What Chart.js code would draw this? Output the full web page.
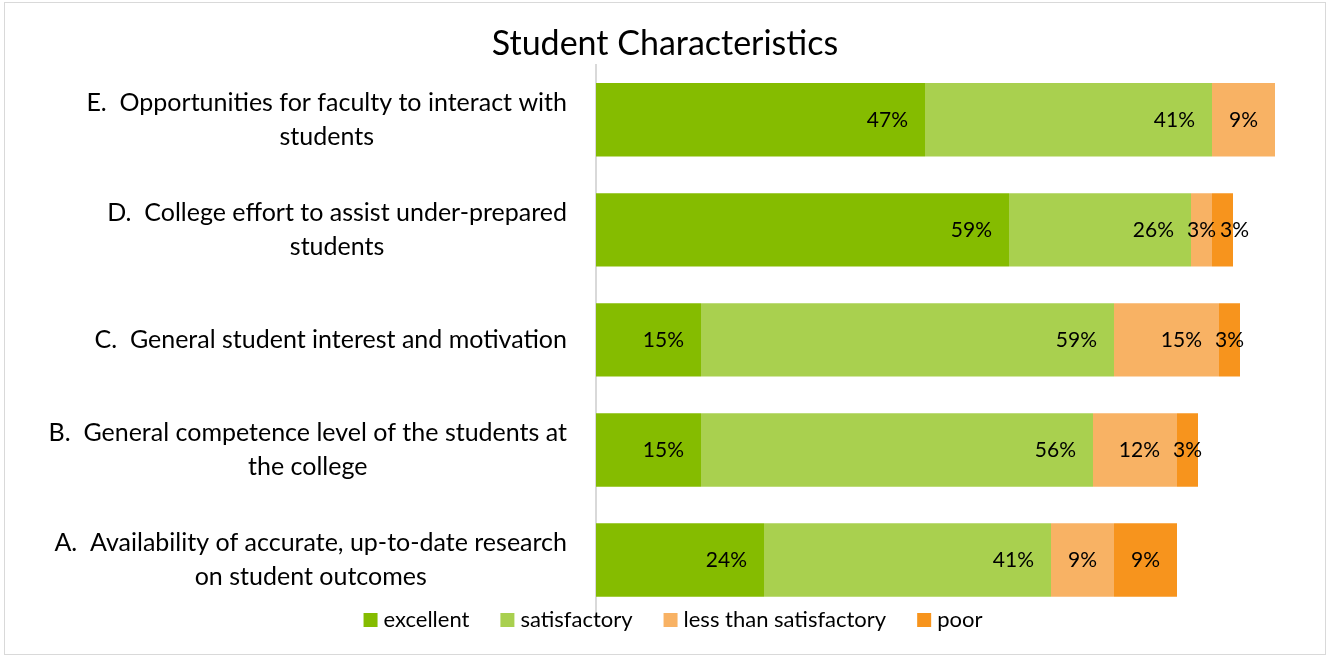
<!DOCTYPE html>
<html>
<head>
<meta charset="utf-8">
<title>Student Characteristics</title>
<script src="https://cdn.jsdelivr.net/npm/chart.js@4.4.1/dist/chart.umd.min.js"></script>
<style>
  html, body { margin: 0; padding: 0; background: #fff; }
  #frame {
    position: absolute; left: 4px; top: 2px;
    width: 1320px; height: 651px;
    border: 1px solid #d9d9d9;
  }
  canvas { display: block; }
</style>
</head>
<body>
<div id="frame"><canvas id="chart"></canvas></div>
<script>
// Survey rating shares (%) per item, top to bottom
const categories = [
  ['E.  Opportunities for faculty to interact with', 'students'],
  ['D.  College effort to assist under-prepared', 'students'],
  ['C.  General student interest and motivation'],
  ['B.  General competence level of the students at', 'the college'],
  ['A.  Availability of accurate, up-to-date research', 'on student outcomes']
];
const seriesNames = ['excellent', 'satisfactory', 'less than satisfactory', 'poor'];
const excellent = [47, 59, 15, 15, 24];
const satisfactory = [41, 26, 59, 56, 41];
const lessThanSatisfactory = [9, 3, 15, 12, 9];
const poor = [null, 3, 3, 3, 9];
const seriesColors = ['#85bc00', '#a9d04f', '#f8b264', '#f7941d'];

const FONT = 'Lato, "Noto Sans", sans-serif';

// item names to the left of the axis, lines centred on the widest line
const categoryLabels = {
  id: 'categoryLabels',
  afterDraw(chart) {
    const { ctx, chartArea, scales: { y } } = chart;
    ctx.save();
    ctx.font = '25px ' + FONT;
    ctx.fillStyle = '#000';
    ctx.textAlign = 'center';
    ctx.textBaseline = 'middle';
    const right = chartArea.left - 29;
    const lineHeight = 34;
    categories.forEach((lines, i) => {
      const yc = y.getPixelForValue(i);
      const w = Math.max(...lines.map(l => ctx.measureText(l).width));
      const cx = right - w / 2;
      lines.forEach((line, j) => {
        ctx.fillText(line, cx, yc + (j - (lines.length - 1) / 2) * lineHeight);
      });
    });
    ctx.restore();
  }
};

// percent labels at the inner end of each segment
const valueLabels = {
  id: 'valueLabels',
  afterDatasetsDraw(chart) {
    const { ctx } = chart;
    ctx.save();
    ctx.font = '21px ' + FONT;
    ctx.fillStyle = '#000';
    ctx.textAlign = 'left';
    ctx.textBaseline = 'middle';
    categories.forEach((_, i) => {
      let prevRight = -Infinity;
      chart.data.datasets.forEach((ds, d) => {
        const v = ds.data[i];
        if (!v) return;
        const bar = chart.getDatasetMeta(d).data[i];
        const text = v + '%';
        const w = ctx.measureText(text).width;
        const left = Math.min(bar.base, bar.x);
        const right = Math.max(bar.base, bar.x);
        let x = right - 17 - w;
        if (x < left) x = (left + right) / 2 - w / 2;
        if (x < prevRight + 4) x = prevRight + 4;
        ctx.fillText(text, x, bar.y);
        prevRight = x + w;
      });
    });
    ctx.restore();
  }
};

// legend row under the plot
const bottomLegend = {
  id: 'bottomLegend',
  afterDraw(chart) {
    const { ctx, width } = chart;
    ctx.save();
    ctx.font = '22px ' + FONT;
    ctx.textBaseline = 'middle';
    ctx.textAlign = 'left';
    const box = 14, gapText = 6, gapItem = 31;
    const items = chart.data.datasets.map(ds => ({
      text: ds.label, color: ds.backgroundColor, w: ctx.measureText(ds.label).width
    }));
    const total = items.reduce((s, it) => s + box + gapText + it.w, 0) + gapItem * (items.length - 1);
    let x = width / 2 + 8 - total / 2;
    const yc = 617;
    items.forEach(it => {
      ctx.fillStyle = it.color;
      ctx.fillRect(x, yc - box / 2, box, box);
      ctx.fillStyle = '#000';
      ctx.fillText(it.text, x + box + gapText, yc);
      x += box + gapText + it.w + gapItem;
    });
    ctx.restore();
  }
};

const seriesValues = [excellent, satisfactory, lessThanSatisfactory, poor];

new Chart(document.getElementById('chart'), {
  type: 'bar',
  data: {
    labels: categories,
    datasets: seriesNames.map((name, k) => ({
      label: name,
      data: seriesValues[k],
      backgroundColor: seriesColors[k],
      borderWidth: 0,
      categoryPercentage: 1,
      barPercentage: 0.667
    }))
  },
  options: {
    indexAxis: 'y',
    responsive: true,
    maintainAspectRatio: false,
    animation: false,
    layout: { padding: { left: 0, right: 0, top: 0, bottom: 39 } },
    plugins: {
      title: {
        display: true,
        text: 'Student Characteristics',
        color: '#000',
        font: { family: FONT, size: 34, weight: 'normal', lineHeight: 1.2 },
        padding: { top: 21, bottom: 0 }
      },
      legend: { display: false },
      tooltip: { enabled: false }
    },
    scales: {
      x: { stacked: true, min: 0, max: 100, display: false },
      y: {
        stacked: true,
        grid: { display: false, drawTicks: false },
        ticks: { display: false },
        border: { display: true, color: '#d9d9d9', width: 2 },
        afterFit: s => { s.width = 591; }
      },
      // empty strip on the right of the plot
      gutter: {
        type: 'linear',
        position: 'right',
        grid: { display: false, drawTicks: false },
        ticks: { display: false },
        border: { display: false },
        afterFit: s => { s.width = 29; }
      }
    }
  },
  plugins: [categoryLabels, valueLabels, bottomLegend]
});
</script>
</body>
</html>
